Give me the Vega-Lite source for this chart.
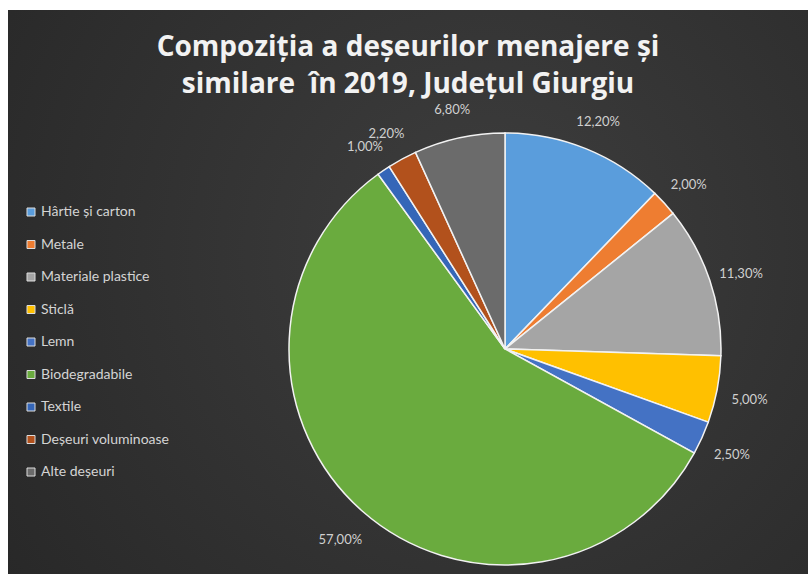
{
  "$schema": "https://vega.github.io/schema/vega-lite/v6.json",
  "width": 808,
  "height": 574,
  "autosize": {"type": "fit", "contains": "padding"},
  "padding": {"left": 8, "top": 10, "right": 0, "bottom": 0},
  "background": "white",
  "config": {"view": {"stroke": null}},
  "title": {
    "text": ["Compoziția a deșeurilor menajere și", "similare\u00a0 în 2019, Județul Giurgiu"],
    "font": "Open Sans",
    "fontSize": 28,
    "fontWeight": "bold",
    "color": "#f2f2f2",
    "anchor": "middle",
    "frame": "group",
    "offset": -89,
    "lineHeight": 37
  },
  "data": {
    "values": [
      {"n": 1, "categorie": "Hârtie și carton", "value": 12.2, "label": "12,20%"},
      {"n": 2, "categorie": "Metale", "value": 2.0, "label": "2,00%"},
      {"n": 3, "categorie": "Materiale plastice", "value": 11.3, "label": "11,30%"},
      {"n": 4, "categorie": "Sticlă", "value": 5.0, "label": "5,00%"},
      {"n": 5, "categorie": "Lemn", "value": 2.5, "label": "2,50%"},
      {"n": 6, "categorie": "Biodegradabile", "value": 57.0, "label": "57,00%"},
      {"n": 7, "categorie": "Textile", "value": 1.0, "label": "1,00%"},
      {"n": 8, "categorie": "Deșeuri voluminoase", "value": 2.2, "label": "2,20%"},
      {"n": 9, "categorie": "Alte deșeuri", "value": 6.8, "label": "6,80%"}
    ]
  },
  "layer": [
    {
      "data": {"values": [{}]},
      "mark": {
        "type": "rect",
        "fill": {
          "gradient": "radial",
          "x1": 0.6, "y1": 0.45, "r1": 0,
          "x2": 0.6, "y2": 0.45, "r2": 0.8,
          "stops": [{"offset": 0, "color": "#3e3e3e"}, {"offset": 1, "color": "#262626"}]
        }
      },
      "encoding": {}
    },
    {
      "mark": {"type": "arc", "radius": 216, "x": 497, "y": 339, "stroke": "#f2f2f2", "strokeWidth": 1.5},
      "encoding": {
        "theta": {"field": "value", "type": "quantitative", "stack": true},
        "order": {"field": "n", "type": "quantitative"},
        "color": {
          "field": "categorie",
          "type": "nominal",
          "scale": {
            "domain": ["Hârtie și carton", "Metale", "Materiale plastice", "Sticlă", "Lemn", "Biodegradabile", "Textile", "Deșeuri voluminoase", "Alte deșeuri"],
            "range": ["#5a9ddc", "#ee7d31", "#a5a5a5", "#ffc000", "#4472c4", "#6aab3e", "#3566b8", "#b2511c", "#6b6b6b"]
          },
          "legend": {
            "orient": "none",
            "legendX": 16,
            "legendY": 195,
            "title": null,
            "padding": 0,
            "symbolType": "square",
            "symbolSize": 64,
            "symbolStrokeColor": "#dddddd",
            "symbolStrokeWidth": 1,
            "labelFont": "Lato",
            "labelFontSize": 14,
            "labelColor": "#d4d4d4",
            "labelOffset": 3,
            "rowPadding": 18.5
          }
        }
      }
    },
    {
      "mark": {"type": "text", "radius": 249, "dy": 4, "x": 497, "y": 339, "font": "Lato", "fontSize": 13, "color": "#d0d0d0"},
      "encoding": {
        "theta": {"field": "value", "type": "quantitative", "stack": true},
        "order": {"field": "n", "type": "quantitative"},
        "text": {"field": "label"}
      }
    }
  ]
}
